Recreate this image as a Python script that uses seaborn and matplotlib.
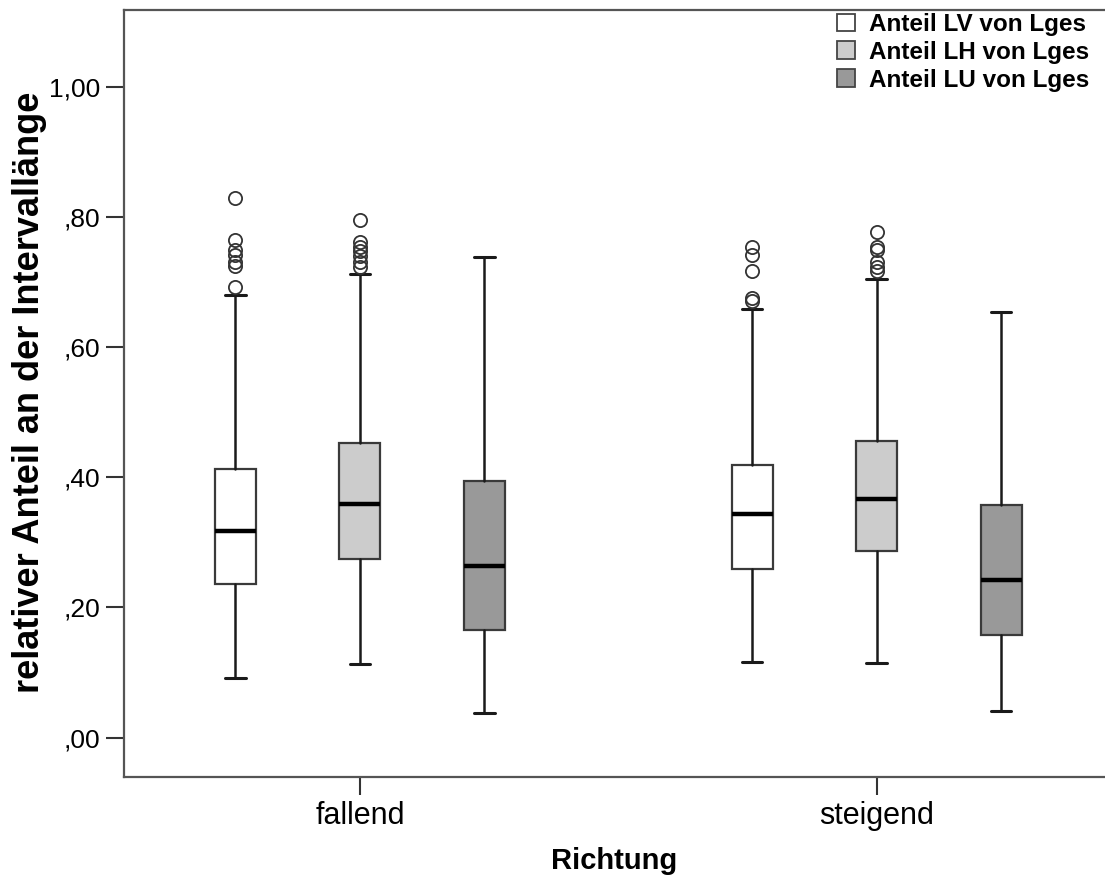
import matplotlib
matplotlib.use("Agg")
import matplotlib.pyplot as plt
import seaborn as sns
from matplotlib.patches import Patch

sns.set_style("white")
plt.rcParams['font.family'] = ['Liberation Sans', 'DejaVu Sans']
plt.rcParams['text.color'] = 'black'
plt.rcParams['axes.labelcolor'] = 'black'
plt.rcParams['xtick.color'] = 'black'
plt.rcParams['ytick.color'] = 'black'

# ---- data ----
richtung = ["fallend", "steigend"]
series = ["Anteil LV von Lges", "Anteil LH von Lges", "Anteil LU von Lges"]
colors = ["#ffffff", "#cccccc", "#999999"]

# per series: [fallend, steigend]
whislo = {"LV": [0.091, 0.116], "LH": [0.113, 0.114], "LU": [0.038, 0.041]}
q1 = {"LV": [0.236, 0.259], "LH": [0.274, 0.287], "LU": [0.165, 0.157]}
med = {"LV": [0.318, 0.344], "LH": [0.359, 0.367], "LU": [0.264, 0.242]}
q3 = {"LV": [0.413, 0.419], "LH": [0.453, 0.456], "LU": [0.394, 0.357]}
whishi = {"LV": [0.680, 0.658], "LH": [0.712, 0.704], "LU": [0.738, 0.654]}
fliers = {
    "LV": [[0.829, 0.765, 0.749, 0.741, 0.731, 0.725, 0.692],
           [0.754, 0.741, 0.717, 0.676, 0.671]],
    "LH": [[0.795, 0.762, 0.754, 0.747, 0.739, 0.731, 0.723],
           [0.776, 0.753, 0.749, 0.731, 0.723, 0.716]],
    "LU": [[], []],
}
keys = ["LV", "LH", "LU"]
yticks = [0.0, 0.2, 0.4, 0.6, 0.8, 1.0]
yticklabels = [",00", ",20", ",40", ",60", ",80", "1,00"]

fig = plt.figure(figsize=(11.05, 8.77), dpi=100)
ax = fig.add_axes([124 / 1105, 100 / 877, 1 - 124 / 1105, 767 / 877])

offset = 124.5 / 517
width = 41 / 517
for si, k in enumerate(keys):
    stats = []
    pos = []
    for gi in range(len(richtung)):
        stats.append(dict(med=med[k][gi], q1=q1[k][gi], q3=q3[k][gi],
                          whislo=whislo[k][gi], whishi=whishi[k][gi],
                          fliers=fliers[k][gi]))
        pos.append(gi + (si - 1) * offset)
    ax.bxp(stats, positions=pos, widths=width, capwidths=width * 0.5,
           patch_artist=True, manage_ticks=False,
           boxprops=dict(facecolor=colors[si], edgecolor="#3a3a3a", linewidth=1.6),
           whiskerprops=dict(color="#1a1a1a", linewidth=1.8),
           capprops=dict(color="#1a1a1a", linewidth=2.2),
           medianprops=dict(color="#000000", linewidth=3.2, solid_capstyle="butt"),
           flierprops=dict(marker="o", markersize=9.5, markerfacecolor="none",
                           markeredgecolor="#333333", markeredgewidth=1.3))

ax.set_xlim(-0.4565, 1.4420)
ax.set_ylim(-0.0603, 1.1175)
ax.set_xticks([0, 1])
ax.set_xticklabels(richtung, fontsize=22)
ax.set_yticks(yticks)
ax.set_yticklabels(yticklabels, fontsize=19)
ax.tick_params(axis="both", direction="out", length=13, width=1.5, color="#333333",
               left=True, bottom=True, pad=4)
for side in ["left", "bottom", "top"]:
    ax.spines[side].set_color("#555555")
    ax.spines[side].set_linewidth(1.6)
ax.spines["right"].set_visible(False)

ax.set_xlabel("Richtung", fontsize=21, fontweight="bold", labelpad=12)
ax.set_ylabel("relativer Anteil an der Intervallänge", fontsize=26, fontweight="bold")
ax.yaxis.set_label_coords((47 - 124) / 981, (777 - 392) / 767)

handles = [Patch(facecolor=c, edgecolor="#444444", linewidth=1.3) for c in colors]
fig.legend(handles, series, loc="upper right", bbox_to_anchor=(1089 / 1105, 1 - 13 / 877),
           frameon=False, prop=dict(size=17.5, weight="bold"), handlelength=0.75,
           handleheight=0.75, handletextpad=0.55, labelspacing=0.2, borderpad=0,
           borderaxespad=0)

fig.savefig("out.png", dpi=100)
